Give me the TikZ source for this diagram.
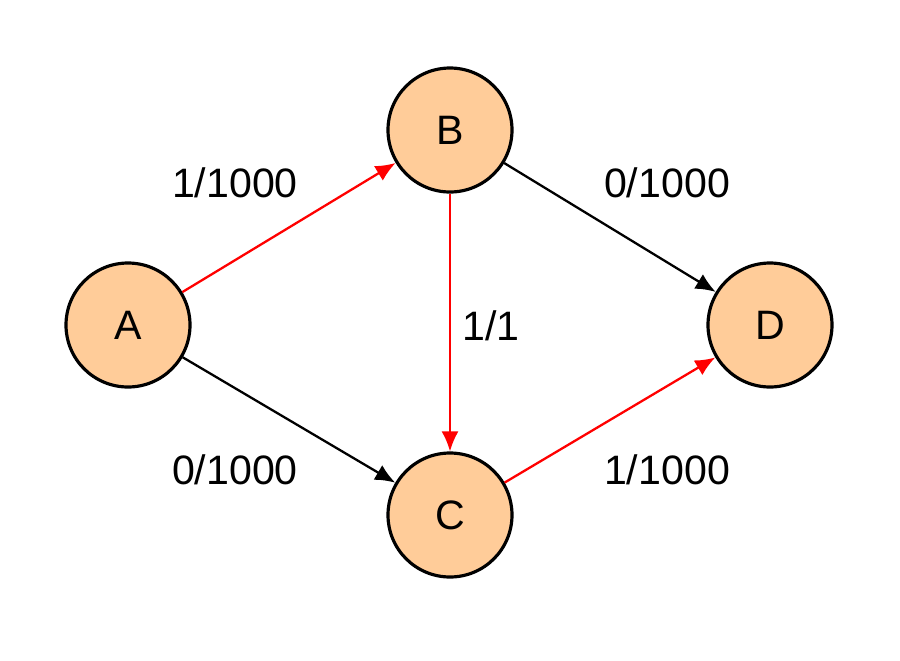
\documentclass[tikz,border=0pt]{standalone}
\usepackage{fontspec}
\setmainfont{Liberation Sans}
\usetikzlibrary{arrows.meta}
\definecolor{peach}{RGB}{255,204,153}
\tikzset{
  vertex/.style={circle, draw, line width=0.9pt, fill=peach, minimum size=1.24cm, inner sep=0pt, font=\fontsize{11.7}{14}\selectfont},
  flow/.style={font=\fontsize{11.7}{14}\selectfont}
}
\begin{document}
\begin{tikzpicture}[>={Latex[length=2mm,width=1.7mm]}]
  \useasboundingbox (0,0) rectangle (9,6.6);
  \node[vertex] (a) at (1.28,3.35) {A};
  \node[vertex] (b) at (4.5,5.3) {B};
  \node[vertex] (c) at (4.5,1.45) {C};
  \node[vertex] (d) at (7.7,3.35) {D};
  \draw[red, line width=0.65pt, ->] (a) -- (b);
  \draw[line width=0.65pt, ->] (a) -- (c);
  \draw[line width=0.65pt, ->] (b) -- (d);
  \draw[red, line width=0.65pt, ->] (c) -- (d);
  \draw[red, line width=0.65pt, ->] (b) -- (c);
  \node[flow] (ab) at (2.35,4.77) {1/1000};
  \node[flow] (ac) at (2.35,1.9) {0/1000};
  \node[flow] (bd) at (6.67,4.77) {0/1000};
  \node[flow] (cd) at (6.67,1.9) {1/1000};
  \node[flow] (bc) at (4.91,3.34) {1/1};
\end{tikzpicture}
\end{document}
